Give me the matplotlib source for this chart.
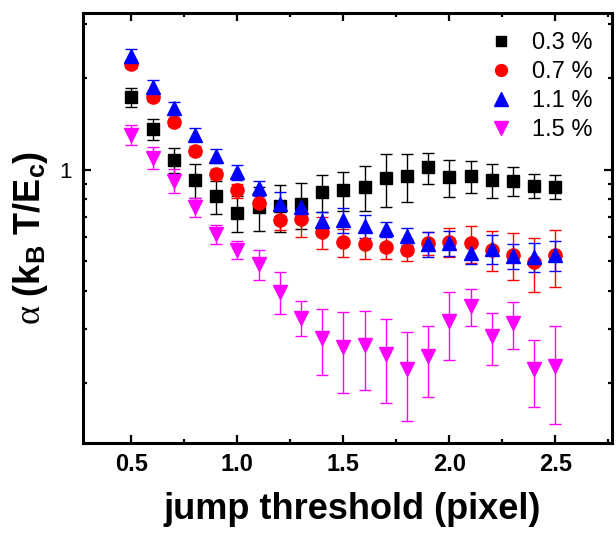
import numpy as np
import matplotlib
matplotlib.use('Agg')
import matplotlib.pyplot as plt
from matplotlib.lines import Line2D
from matplotlib.ticker import LogLocator, NullFormatter, MultipleLocator, FixedLocator

plt.rcParams['font.family'] = 'Liberation Sans'
plt.rcParams['mathtext.fontset'] = 'custom'
plt.rcParams['mathtext.it'] = 'Liberation Serif'
plt.rcParams['mathtext.rm'] = 'Liberation Sans:bold'

# jump threshold (pixel)
threshold = [0.5, 0.6, 0.7, 0.8, 0.9, 1.0, 1.1, 1.2, 1.3, 1.4, 1.5,
             1.6, 1.7, 1.8, 1.9, 2.0, 2.1, 2.2, 2.3, 2.4, 2.5]

# alpha (kB T / Ec) and its error for each concentration
alpha_03 = [1.724, 1.359, 1.076, 0.925, 0.818, 0.722, 0.753, 0.757, 0.772, 0.843, 0.858,
            0.880, 0.939, 0.951, 1.017, 0.944, 0.951, 0.927, 0.920, 0.886, 0.880]
err_03 = [0.126, 0.110, 0.105, 0.116, 0.102, 0.099, 0.123, 0.132, 0.133, 0.119, 0.125,
          0.151, 0.183, 0.170, 0.119, 0.129, 0.113, 0.119, 0.103, 0.081, 0.077]

alpha_07 = [2.217, 1.724, 1.428, 1.154, 0.968, 0.854, 0.778, 0.685, 0.690, 0.624, 0.578,
            0.571, 0.557, 0.547, 0.574, 0.578, 0.574, 0.546, 0.526, 0.497, 0.523]
err_07 = [0.060, 0.050, 0.040, 0.040, 0.040, 0.046, 0.052, 0.049, 0.089, 0.074, 0.061,
          0.060, 0.049, 0.046, 0.049, 0.063, 0.081, 0.081, 0.093, 0.100, 0.110]

alpha_11 = [2.360, 1.871, 1.587, 1.302, 1.111, 0.980, 0.867, 0.774, 0.753, 0.679, 0.684,
            0.654, 0.638, 0.604, 0.571, 0.574, 0.534, 0.550, 0.521, 0.518, 0.524]
err_11 = [0.130, 0.100, 0.080, 0.065, 0.060, 0.055, 0.047, 0.070, 0.050, 0.047, 0.066,
          0.056, 0.036, 0.040, 0.054, 0.055, 0.044, 0.058, 0.049, 0.057, 0.060]

alpha_15 = [1.302, 1.095, 0.920, 0.753, 0.614, 0.545, 0.491, 0.398, 0.327, 0.280, 0.263,
            0.266, 0.248, 0.222, 0.244, 0.318, 0.356, 0.284, 0.313, 0.222, 0.227]
err_15 = [0.100, 0.090, 0.085, 0.055, 0.045, 0.037, 0.056, 0.062, 0.043, 0.068, 0.078,
          0.077, 0.076, 0.072, 0.064, 0.080, 0.049, 0.056, 0.055, 0.055, 0.080]

labels = ['0.3 %', '0.7 %', '1.1 %', '1.5 %']

fig = plt.figure(figsize=(6.16, 5.34), dpi=100)
ax = fig.add_axes([0.1347, 0.1704, 0.8588, 0.8053])

series = [
    (alpha_03, err_03, 's', 'black', 8.5),
    (alpha_07, err_07, 'o', 'red', 9.5),
    (alpha_11, err_11, '^', 'blue', 10.5),
    (alpha_15, err_15, 'v', 'magenta', 10.5),
]
handles = []
for (y, e, m, c, ms), lab in zip(series, labels):
    ax.errorbar(threshold, y, yerr=e, fmt=m, color=c, ms=ms, mec=c,
                elinewidth=1, capsize=4.5, capthick=1)
    handles.append(Line2D([], [], ls='none', marker=m, color=c, ms=ms * 0.9, label=lab))

ax.set_yscale('log')
ax.set_xlim(0.272, 2.767)
ax.set_ylim(0.127, 3.26)

ax.xaxis.set_major_locator(MultipleLocator(0.5))
ax.xaxis.set_minor_locator(MultipleLocator(0.25))
ax.yaxis.set_major_locator(FixedLocator([1]))
ax.yaxis.set_minor_locator(LogLocator(subs=np.arange(2, 10)))
ax.yaxis.set_minor_formatter(NullFormatter())
ax.set_yticklabels(['1'], fontsize=16)
ax.set_xticks([0.5, 1.0, 1.5, 2.0, 2.5])
ax.set_xticklabels(['0.5', '1.0', '1.5', '2.0', '2.5'], fontweight='bold', fontsize=17)

ax.tick_params(which='both', direction='in', top=True, right=True)
ax.tick_params(axis='x', which='major', pad=7)
ax.tick_params(axis='y', which='major', pad=8)
ax.tick_params(which='major', length=6, width=1.6)
ax.tick_params(which='minor', length=3, width=1.6)
for sp in ax.spines.values():
    sp.set_linewidth(2.2)

ax.set_xlabel('jump threshold (pixel)', fontsize=26, fontweight='bold')
ax.xaxis.set_label_coords(0.509, -0.114)
ax.set_ylabel(r'$\alpha$ (k$_\mathregular{B}$ T/E$_\mathregular{c}$)',
              fontsize=26, fontweight='bold')
ax.yaxis.set_label_coords(-0.062, 0.477)

ax.legend(handles=handles, loc='upper right', frameon=False, fontsize=17,
          handletextpad=0.35, labelspacing=0.3, borderaxespad=0.4,
          bbox_to_anchor=(1.0, 1.0))

fig.savefig('out.png', dpi=100)
